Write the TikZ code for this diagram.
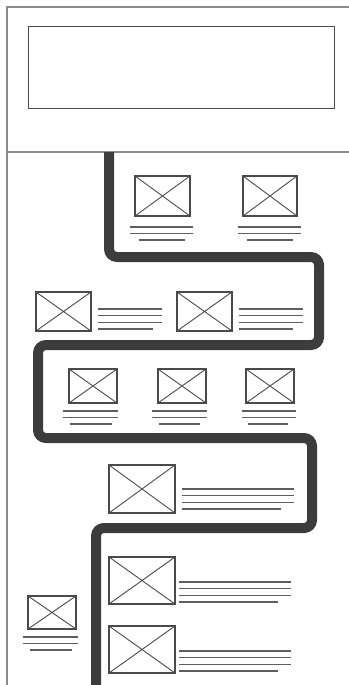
\documentclass[tikz,border=0pt]{standalone}
\definecolor{framegray}{HTML}{8A8A8A}
\definecolor{boxgray}{HTML}{4A4A4A}
\definecolor{linegray}{HTML}{5E5E5E}
\definecolor{pathgray}{HTML}{3C3C3C}
\tikzset{
  img/.style args={#1x#2}{draw=boxgray, line width=1.3pt, inner sep=0pt, outer sep=0pt,
    anchor=north west, minimum width=#1pt, minimum height=#2pt,
    path picture={\draw[boxgray, line width=0.9pt]
      (path picture bounding box.north west) -- (path picture bounding box.south east)
      (path picture bounding box.north east) -- (path picture bounding box.south west);}},
  txt/.style={draw=linegray, line width=1.1pt},
  frame/.style={draw=framegray, line width=1.2pt},
  route/.style={draw=pathgray, line width=10pt, rounded corners=8pt},
}
\newcommand{\undertext}[5]{% x1 x2 x3a x3b y1 (spacing 7)
  \draw[txt] (#1,#5) -- (#2,#5);
  \draw[txt] (#1,#5+6.5) -- (#2,#5+6.5);
  \draw[txt] (#3,#5+13) -- (#4,#5+13);}
\newcommand{\sidetext}[4]{% x1 x2 x4end y1
  \draw[txt] (#1,#4) -- (#2,#4);
  \draw[txt] (#1,#4+6.7) -- (#2,#4+6.7);
  \draw[txt] (#1,#4+13.4) -- (#2,#4+13.4);
  \draw[txt] (#1,#4+20) -- (#3,#4+20);}
\begin{document}
\begin{tikzpicture}[x=1pt,y=-1pt]
\useasboundingbox (0,0) rectangle (348,685);
% frame
\draw[frame] (7,685) -- (7,7) -- (349,7);
\draw[frame] (7,152) -- (349,152);
\node[draw=boxgray, line width=1.2pt, anchor=north west, minimum width=306pt, minimum height=82pt, inner sep=0pt] (banner) at (28,26) {};
% route
\coordinate (p0) at (109,152);
\coordinate (p1) at (109,257);
\coordinate (p2) at (319,257);
\coordinate (p3) at (319,345);
\coordinate (p4) at (38,345);
\coordinate (p5) at (38,438);
\coordinate (p6) at (312,438);
\coordinate (p7) at (312,528);
\coordinate (p8) at (96,528);
\coordinate (p9) at (96,690);
\draw[route] (p0) -- (p1) -- (p2) -- (p3) -- (p4) -- (p5) -- (p6) -- (p7) -- (p8) -- (p9);
% row 1
\node[img=55x40] (r1a) at (135,176) {};
\node[img=54x40] (r1b) at (243,176) {};
\undertext{130}{193}{139}{185}{227}
\undertext{238}{301}{247}{293}{227}
% row 2
\node[img=55x39] (r2a) at (36,292) {};
\node[img=55x39] (r2b) at (177,292) {};
\sidetext{98}{162}{153}{309}
\sidetext{239}{303}{293}{309}
% row 3
\node[img=48x34] (r3a) at (69,369) {};
\node[img=48x34] (r3b) at (158,369) {};
\node[img=48x34] (r3c) at (246,369) {};
\undertext{63}{118}{70}{112}{411}
\undertext{152}{207}{159}{200}{411}
\undertext{242}{296}{248}{288}{411}
% row 4
\node[img=66x48] (r4) at (109,465) {};
\sidetext{182}{294}{281}{489}
% row 5
\node[img=66x47] (r5a) at (109,557) {};
\node[img=66x47] (r5b) at (109,626) {};
\sidetext{179}{291}{278}{582}
\sidetext{179}{291}{278}{651}
% small left
\node[img=48x33] (sm) at (28,596) {};
\undertext{23}{78}{30}{72}{637}
\end{tikzpicture}
\end{document}
